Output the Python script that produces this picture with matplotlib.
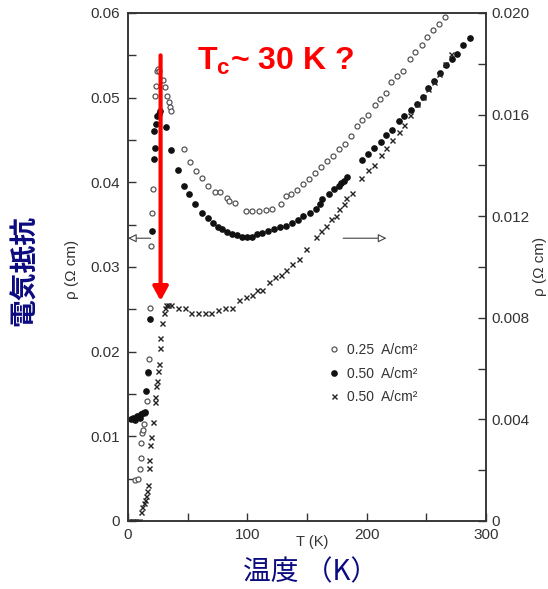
import matplotlib
matplotlib.use("Agg")
import matplotlib.pyplot as plt
from matplotlib.lines import Line2D

plt.rcParams["font.family"] = ["Liberation Sans", "DejaVu Sans"]
plt.rcParams["mathtext.fontset"] = "custom"
plt.rcParams["mathtext.bf"] = "Liberation Sans:bold"
plt.rcParams["mathtext.rm"] = "Liberation Sans"

# 0.25 A/cm2, open circles (left axis)
t_open = [5.9, 8.4, 10.1, 10.5, 11.0, 11.8, 12.6, 13.5, 14.5, 16.0, 16.9, 17.7,
          18.5, 19.4, 20.2, 21.1, 22.8, 23.6, 24.4, 25.3, 26.1, 29.5, 31.2, 32.9,
          34.6, 35.4, 36.2, 47.2, 52.2, 57.3, 62.4, 67.4, 72.5, 77.5, 82.6, 84.3,
          90.0, 98.6, 103.7, 109.6, 115.4, 120.5, 128.0, 132.3, 136.5, 141.6,
          146.6, 151.7, 156.7, 161.8, 166.9, 171.9, 177.0, 182.0, 187.0, 192.1,
          196.3, 201.4, 207.3, 211.5, 216.6, 220.8, 225.0, 230.1, 236.0, 240.2,
          246.1, 250.3, 255.3, 260.4, 265.5]
rho_open = [0.0048, 0.0050, 0.0061, 0.0074, 0.0092, 0.0104, 0.0108, 0.0115, 0.0128,
            0.0142, 0.0175, 0.0191, 0.0252, 0.0325, 0.0364, 0.0392, 0.0502, 0.0514,
            0.0531, 0.0534, 0.0532, 0.0521, 0.0513, 0.0502, 0.0495, 0.0489, 0.0484,
            0.0439, 0.0424, 0.0413, 0.0405, 0.0396, 0.0389, 0.0388, 0.0381, 0.0378,
            0.0375, 0.0366, 0.0366, 0.0366, 0.0367, 0.0369, 0.0374, 0.0384, 0.0386,
            0.0391, 0.0398, 0.0404, 0.0411, 0.0418, 0.0425, 0.0431, 0.0439, 0.0445,
            0.0455, 0.0466, 0.0474, 0.0480, 0.0491, 0.0499, 0.0505, 0.0519, 0.0525,
            0.0532, 0.0546, 0.0554, 0.0562, 0.0572, 0.0580, 0.0587, 0.0595]

# 0.50 A/cm2, filled circles (left axis)
t_fill = [2.5, 4.2, 5.9, 7.6, 10.1, 11.0, 12.6, 14.3, 15.2, 16.9, 18.5, 20.2, 21.9,
          22.8, 21.9, 23.6, 24.4, 26.1, 27.0, 32.0, 36.2, 42.1, 47.2, 51.4, 56.5,
          62.4, 67.4, 71.6, 75.0, 78.4, 82.6, 86.8, 91.0, 95.2, 99.4, 103.7, 107.9,
          112.1, 117.1, 122.2, 127.2, 132.3, 137.4, 142.4, 146.6, 152.5, 157.6,
          161.0, 162.6, 168.5, 172.8, 177.0, 178.7, 181.2, 183.7, 196.3, 201.4,
          206.5, 212.4, 216.6, 221.6, 226.7, 231.7, 236.8, 241.9, 246.9, 251.1,
          256.2, 261.2, 266.3, 271.3, 275.6, 280.6, 286.5]
rho_fill = [0.0120, 0.0122, 0.0119, 0.0124, 0.0122, 0.0126, 0.0128, 0.0129, 0.0154,
            0.0176, 0.0238, 0.0342, 0.0427, 0.0440, 0.0461, 0.0469, 0.0478, 0.0481,
            0.0484, 0.0465, 0.0438, 0.0415, 0.0396, 0.0386, 0.0374, 0.0364, 0.0358,
            0.0352, 0.0347, 0.0345, 0.0341, 0.0339, 0.0338, 0.0336, 0.0336, 0.0336,
            0.0339, 0.0340, 0.0342, 0.0345, 0.0347, 0.0349, 0.0352, 0.0356, 0.0360,
            0.0364, 0.0369, 0.0374, 0.0380, 0.0386, 0.0392, 0.0396, 0.0399, 0.0402,
            0.0406, 0.0426, 0.0433, 0.0440, 0.0448, 0.0456, 0.0462, 0.0472, 0.0478,
            0.0486, 0.0493, 0.0501, 0.0511, 0.0520, 0.0529, 0.0538, 0.0546, 0.0552,
            0.0562, 0.0571]

# 0.50 A/cm2, crosses (right axis)
t_cross = [0.0, 1.5, 3.0, 4.5, 6.0, 7.5, 9.0, 11.0, 11.8, 13.5, 14.3, 15.2, 16.0,
           16.5, 17.7, 17.9, 18.5, 19.4, 21.1, 22.8, 23.0, 23.6, 24.4, 25.3, 26.1,
           27.0, 27.2, 28.7, 30.3, 31.2, 32.0, 33.7, 36.2, 42.1, 48.0, 53.1, 59.0,
           64.9, 69.9, 75.8, 81.7, 86.8, 92.7, 98.6, 103.7, 107.9, 112.1, 118.0,
           123.0, 128.1, 132.3, 137.4, 143.3, 149.2, 157.6, 161.8, 166.0, 170.2,
           174.4, 177.0, 181.2, 182.9, 187.9, 195.5, 201.4, 206.5, 212.4, 216.6,
           221.6, 226.7, 231.7, 236.0, 241.9, 246.9, 251.1, 256.2, 260.4, 265.5,
           270.5]
rho_cross = [0.0, 0.0, 0.0, 0.0, 0.0, 0.0, 0.0, 0.00035, 0.00055, 0.0007, 0.00082,
             0.0010, 0.0012, 0.0014, 0.0021, 0.0024, 0.0030, 0.0033, 0.0039, 0.0047,
             0.0049, 0.0053, 0.0055, 0.0059, 0.0062, 0.0068, 0.0072, 0.0078, 0.0082,
             0.0084, 0.0085, 0.0085, 0.0085, 0.0084, 0.0084, 0.0082, 0.0082, 0.0082,
             0.0082, 0.0083, 0.0084, 0.0084, 0.0087, 0.0088, 0.0089, 0.0091, 0.0091,
             0.0094, 0.0096, 0.0097, 0.0099, 0.0101, 0.0103, 0.0107, 0.0112, 0.0114,
             0.0116, 0.0119, 0.0120, 0.0123, 0.0125, 0.0127, 0.0129, 0.0135, 0.0138,
             0.0140, 0.0144, 0.0147, 0.0150, 0.0153, 0.0156, 0.0160, 0.0164, 0.0167,
             0.0170, 0.0173, 0.0176, 0.0180, 0.0184]

labels = ["0.25  A/cm²", "0.50  A/cm²", "0.50  A/cm²"]

TC_T = 27.3
TC_TOP, TC_TIP = 0.055, 0.026
ARROW_Y = 0.0334

spine_col = "#333333"
navy = "#0b0b80"

fig = plt.figure(figsize=(5.48, 5.89), dpi=100)
ax = fig.add_axes([128 / 548, 68 / 589, 358 / 548, 508 / 589])
ax2 = ax.twinx()

ax.plot(t_open, rho_open, "o", ms=3.6, mfc="white", mec="#555555", mew=0.9, ls="none")
ax.plot(t_fill, rho_fill, "o", ms=3.8, mfc="#111111", mec="#111111", ls="none")
ax2.plot(t_cross, rho_cross, "x", ms=3.6, color="#222222", mew=1.0, ls="none")

ax.set_xlim(0, 300)
ax.set_ylim(0, 0.06)
ax2.set_ylim(0, 0.02)

ax.set_xticks([0, 100, 200, 300])
ax.set_xticks([50, 150, 250], minor=True)
ax.set_yticks([0, 0.01, 0.02, 0.03, 0.04, 0.05, 0.06])
ax.set_yticklabels(["0", "0.01", "0.02", "0.03", "0.04", "0.05", "0.06"])
ax.set_yticks([0.005, 0.015, 0.025, 0.035, 0.045, 0.055], minor=True)
ax2.set_yticks([0, 0.004, 0.008, 0.012, 0.016, 0.020])
ax2.set_yticklabels(["0", "0.004", "0.008", "0.012", "0.016", "0.020"])
ax2.set_yticks([0.002, 0.006, 0.010, 0.014, 0.018], minor=True)

for a in (ax, ax2):
    a.tick_params(which="both", direction="in", length=6, width=1.0, color=spine_col,
                  labelsize=11, labelcolor="#333333")
    for s in a.spines.values():
        s.set_color(spine_col)
        s.set_linewidth(1.1)
ax.tick_params(axis="x", pad=5)
ax.tick_params(axis="y", pad=6, right=False)
ax2.tick_params(axis="y", pad=4)

# axis titles of the original figure
fig.text(72 / 548, 1 - 269 / 589, "ρ (Ω cm)", rotation=90, ha="center", va="center",
         fontsize=11, color="#333333")
fig.text(540 / 548, 1 - 266 / 589, "ρ (Ω cm)", rotation=90, ha="center", va="center",
         fontsize=11, color="#333333")
fig.text(312 / 548, 1 - 542 / 589, "T (K)", ha="center", va="center",
         fontsize=10.5, color="#333333")

# direction arrows for the two axes
ax.annotate("", xy=(0, ARROW_Y), xytext=(19, ARROW_Y),
            arrowprops=dict(arrowstyle="-|>,head_length=0.5,head_width=0.25",
                            lw=0.8, color="#444444", fc="white", shrinkA=0, shrinkB=0))
ax.annotate("", xy=(216.6, ARROW_Y), xytext=(180.3, ARROW_Y),
            arrowprops=dict(arrowstyle="-|>,head_length=0.5,head_width=0.25",
                            lw=0.8, color="#444444", fc="white", shrinkA=0, shrinkB=0))

# Tc marker
ax2.annotate("", xy=(TC_T, TC_TIP / 3), xytext=(TC_T, TC_TOP / 3),
             arrowprops=dict(arrowstyle="-|>,head_length=0.55,head_width=0.3",
                             lw=3, color="#ff0000", mutation_scale=15,
                             shrinkA=0, shrinkB=0))
fig.text(197 / 548, 1 - 70 / 589, r"$\mathbf{T_c}$~ 30 K ?", color="#ff0000",
         fontsize=23, fontweight="bold", ha="left", va="baseline")

handles = [
    Line2D([], [], marker="o", ls="none", ms=3.6, mfc="white", mec="#555555", mew=0.9),
    Line2D([], [], marker="o", ls="none", ms=3.8, mfc="#111111", mec="#111111"),
    Line2D([], [], marker="x", ls="none", ms=3.6, color="#222222", mew=1.0),
]
ax2.legend(handles, labels, loc="upper left", bbox_to_anchor=(0.56, 0.35),
           frameon=False, fontsize=10, handlelength=0.8, handletextpad=0.5,
           labelspacing=0.68, borderpad=0, borderaxespad=0, labelcolor="#333333")

fig.text(25 / 548, 1 - 270 / 589, "電気抵抗", rotation=90, ha="center", va="center",
         fontsize=20, fontweight="bold", color=navy,
         family=["Noto Sans CJK JP", "DejaVu Sans"])
fig.text(243 / 548, 1 - 572 / 589, "温度 （K）", ha="left", va="center",
         fontsize=20, color=navy, family=["Noto Sans CJK JP", "DejaVu Sans"])

fig.savefig("out.png", dpi=100)
